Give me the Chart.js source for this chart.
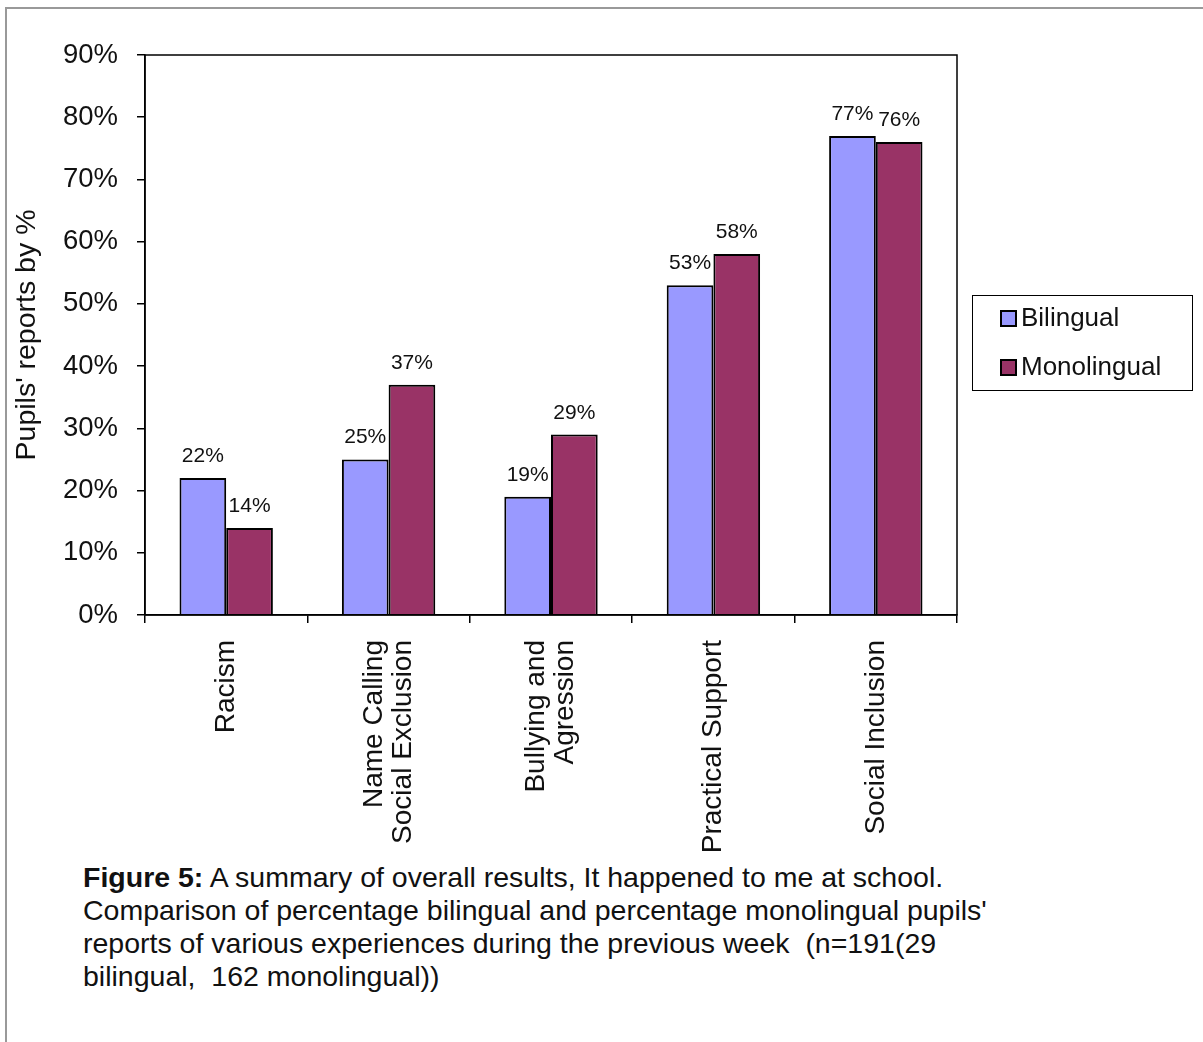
<!DOCTYPE html>
<html>
<head>
<meta charset="utf-8">
<title>Figure 5</title>
<script src="https://cdn.jsdelivr.net/npm/chart.js@4.4.0/dist/chart.umd.min.js"></script>
<style>
  body { margin: 0; background: #fff; }
  #frame { position: absolute; left: 5px; top: 7px; width: 1198px; height: 1035px;
           border-left: 2px solid #999; border-top: 2px solid #999; }
  #wrap { position: absolute; left: 0; top: 0; width: 1203px; height: 860px; }
  #caption { position: absolute; left: 83px; top: 861px; color: #111;
             font: 28.5px "Liberation Sans", Arial, sans-serif; line-height: 33px; }
</style>
</head>
<body>
<div id="frame"></div>
<div id="wrap"><canvas id="barChart"></canvas></div>
<div id="caption"><b>Figure 5:</b> A summary of overall results, It happened to me at school.<br>
Comparison of percentage bilingual and percentage monolingual pupils'<br>
reports of various experiences during the previous week&nbsp; (n=191(29<br>
bilingual,&nbsp; 162 monolingual))</div>
<script>
// data
var categories = [
    ["Racism"],
    ["Name Calling", "Social Exclusion"],
    ["Bullying and", "Agression"],
    ["Practical Support"],
    ["Social Inclusion"]
];
var bilingual = [22, 25, 19, 53, 77];
var monolingual = [14, 37, 29, 58, 76];
var seriesNames = ["Bilingual", "Monolingual"];
var seriesColors = ["#9999FF", "#993366"];
var yMax = 90;
var yStep = 10;

var FONT = '"Liberation Sans", Arial, sans-serif';

// frame round the plot area (top and right edges)
var plotFrame = {
    id: 'plotFrame',
    afterDraw: function (chart) {
        var a = chart.chartArea, ctx = chart.ctx;
        ctx.save();
        ctx.strokeStyle = '#000';
        ctx.lineWidth = 1.5;
        ctx.strokeRect(a.left, a.top, a.right - a.left, a.bottom - a.top);
        ctx.restore();
    }
};

// value labels over each bar
var valueLabels = {
    id: 'valueLabels',
    afterDatasetsDraw: function (chart) {
        var ctx = chart.ctx;
        ctx.save();
        ctx.font = '21px ' + FONT;
        ctx.fillStyle = '#111';
        ctx.textAlign = 'center';
        ctx.textBaseline = 'alphabetic';
        chart.data.datasets.forEach(function (ds, d) {
            chart.getDatasetMeta(d).data.forEach(function (bar, i) {
                ctx.fillText(ds.data[i] + '%', bar.x, bar.y - 16);
            });
        });
        ctx.restore();
    }
};

// rotated category names under the x axis, lines centred on the category
var categoryLabels = {
    id: 'categoryLabels',
    afterDraw: function (chart) {
        var ctx = chart.ctx, xs = chart.scales.x;
        var lh = 29;
        ctx.save();
        ctx.font = '28px ' + FONT;
        ctx.fillStyle = '#111';
        ctx.textAlign = 'right';
        ctx.textBaseline = 'middle';
        categories.forEach(function (lines, i) {
            var x = xs.getPixelForValue(i);
            ctx.save();
            ctx.translate(x, xs.top + 25);
            ctx.rotate(-Math.PI / 2);
            lines.forEach(function (t, j) {
                ctx.fillText(t, 0, (j - (lines.length - 1) / 2) * lh);
            });
            ctx.restore();
        });
        ctx.restore();
    }
};

// boxed legend on the right
var legendBox = {
    id: 'legendBox',
    afterDraw: function (chart) {
        var ctx = chart.ctx;
        ctx.save();
        ctx.strokeStyle = '#000';
        ctx.lineWidth = 1;
        ctx.strokeRect(972.5, 295.5, 220, 95);
        ctx.font = '26px ' + FONT;
        ctx.textBaseline = 'middle';
        ctx.textAlign = 'left';
        chart.data.datasets.forEach(function (ds, d) {
            var y = 311 + d * 49;
            ctx.fillStyle = ds.backgroundColor;
            ctx.fillRect(1001, y, 15, 15);
            ctx.lineWidth = 2;
            ctx.strokeRect(1001, y, 15, 15);
            ctx.fillStyle = '#111';
            ctx.fillText(ds.label, 1021, y + 8);
        });
        ctx.restore();
    }
};

var ctxB = document.getElementById("barChart").getContext('2d');
var myBarChart = new Chart(ctxB, {
    type: 'bar',
    data: {
        labels: categories.map(function (c) { return c.join(' '); }),
        datasets: [{
                label: seriesNames[0],
                data: bilingual,
                backgroundColor: seriesColors[0],
                borderColor: '#000',
                borderWidth: 2,
                categoryPercentage: 0.575,
                barPercentage: 1.0
            },
            {
                label: seriesNames[1],
                data: monolingual,
                backgroundColor: seriesColors[1],
                borderColor: '#000',
                borderWidth: 2,
                categoryPercentage: 0.575,
                barPercentage: 1.0
            }
        ]
    },
    options: {
        responsive: true,
        maintainAspectRatio: false,
        animation: false,
        layout: { padding: { left: 0, top: 55, right: 246, bottom: 0 } },
        plugins: {
            legend: { display: false },
            tooltip: { enabled: false }
        },
        scales: {
            x: {
                ticks: { display: false },
                grid: { drawOnChartArea: false, offset: true, tickLength: 8, color: '#000', lineWidth: 1.5 },
                border: { color: '#000', width: 1.5 },
                afterFit: function (s) { s.height = 245; }
            },
            y: {
                min: 0,
                max: yMax,
                ticks: {
                    stepSize: yStep,
                    padding: 19,
                    color: '#111',
                    font: { family: FONT, size: 27.5 },
                    callback: function (v) { return v + '%'; }
                },
                grid: { drawOnChartArea: false, tickLength: 8, color: '#000', lineWidth: 1.5 },
                border: { color: '#000', width: 1.5 },
                title: {
                    display: true,
                    text: "Pupils' reports by %",
                    color: '#111',
                    font: { family: FONT, size: 28.5 },
                    padding: { top: 10, bottom: 0 }
                },
                afterFit: function (s) { s.width = 145; }
            }
        }
    },
    plugins: [plotFrame, valueLabels, categoryLabels, legendBox]
});
</script>
</body>
</html>
